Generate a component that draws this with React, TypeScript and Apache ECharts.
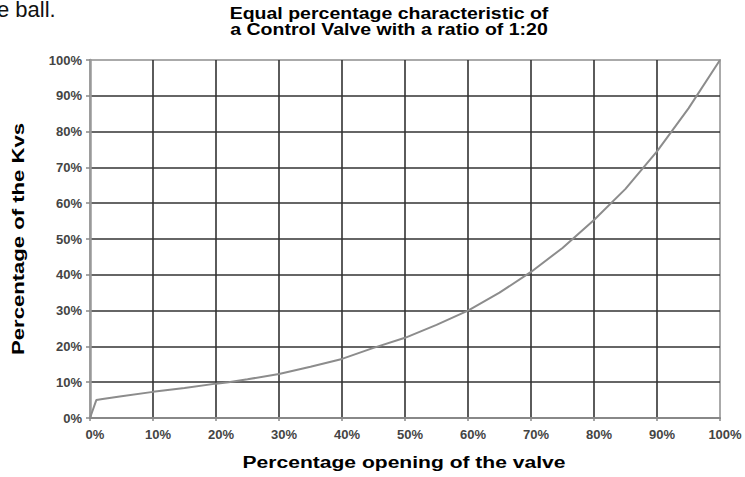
import React, { useEffect, useRef } from "react";
import * as echarts from "echarts";

const openingPct = [0, 1, 2, 5, 10, 15, 20, 22, 25, 30, 35, 40, 45, 50, 55, 60, 65, 70, 75, 80, 85, 90, 95, 100];
const kvsPct = [0, 5, 5.3, 6.1, 7.3, 8.4, 9.6, 10, 10.8, 12.3, 14.3, 16.5, 19.6, 22.4, 26, 30, 35, 40.8, 47.5, 55.3, 64, 74.5, 86.5, 100];

const titleLines = ["Equal percentage characteristic of", "a Control Valve with a ratio of 1:20"];
const xAxisTitle = "Percentage opening of the valve";
const yAxisTitle = "Percentage of the Kvs";
const fragmentText = "e ball.";

const FONT = '"Liberation Sans", Arial, sans-serif';

export default function App() {
  const ref = useRef<HTMLDivElement>(null);
  useEffect(() => {
    if (!ref.current) return;
    const chart = echarts.init(ref.current, null, { renderer: "svg" });
    const data = openingPct.map((x, i) => [x, kvsPct[i]]);
    chart.setOption({
      animation: false,
      backgroundColor: "#ffffff",
      grid: {
        left: 90,
        right: 25,
        top: 60,
        bottom: 59,
        show: true,
        borderColor: "#aaaaaa",
        borderWidth: 2,
        backgroundColor: "transparent",
      },
      xAxis: {
        type: "value",
        min: 0,
        max: 100,
        interval: 10,
        axisLine: { show: true, lineStyle: { color: "#888888", width: 2 } },
        axisTick: { show: true, length: 3, lineStyle: { color: "#888888", width: 1.5 } },
        axisLabel: {
          formatter: "{value}%",
          margin: 10,
          padding: [0, 0, 0, 10],
          color: "#444444",
          fontFamily: FONT,
          fontWeight: "bold",
          fontSize: 13,
        },
        splitLine: {
          show: true,
          showMinLine: false,
          showMaxLine: false,
          lineStyle: { color: "#333333", width: 1.6 },
        },
      },
      yAxis: {
        type: "value",
        min: 0,
        max: 100,
        interval: 10,
        axisLine: { show: true, lineStyle: { color: "#999999", width: 2.5 } },
        axisTick: { show: true, length: 4, lineStyle: { color: "#888888", width: 1.5 } },
        axisLabel: {
          formatter: "{value}%",
          margin: 8,
          color: "#444444",
          fontFamily: FONT,
          fontWeight: "bold",
          fontSize: 13,
        },
        splitLine: {
          show: true,
          showMinLine: false,
          showMaxLine: false,
          lineStyle: { color: "#333333", width: 1.6 },
        },
      },
      series: [
        {
          type: "line",
          data,
          showSymbol: false,
          symbol: "none",
          smooth: false,
          lineStyle: { color: "#8c8c8c", width: 2 },
          z: 5,
        },
      ],
      graphic: [
        {
          type: "text",
          x: -3,
          y: 20,
          style: {
            text: fragmentText,
            font: `22px ${FONT}`,
            fill: "#111111",
            textVerticalAlign: "bottom",
          },
        },
        {
          type: "text",
          x: 389,
          y: 6,
          scaleX: 1.22,
          style: {
            text: titleLines.join("\n"),
            font: `bold 16px ${FONT}`,
            lineHeight: 16,
            fill: "#000000",
            textAlign: "center",
            textVerticalAlign: "top",
          },
        },
        {
          type: "text",
          x: 404,
          y: 462,
          scaleX: 1.24,
          style: {
            text: xAxisTitle,
            font: `bold 17px ${FONT}`,
            fill: "#000000",
            textAlign: "center",
            textVerticalAlign: "middle",
          },
        },
        {
          type: "text",
          x: 18,
          y: 239,
          rotation: Math.PI / 2,
          scaleX: 1.3,
          style: {
            text: yAxisTitle,
            font: `bold 17px ${FONT}`,
            fill: "#000000",
            textAlign: "center",
            textVerticalAlign: "middle",
          },
        },
      ],
    });
    return () => chart.dispose();
  }, []);
  return <div ref={ref} style={{ width: 745, height: 477, position: "absolute", left: 0, top: 0 }} />;
}
